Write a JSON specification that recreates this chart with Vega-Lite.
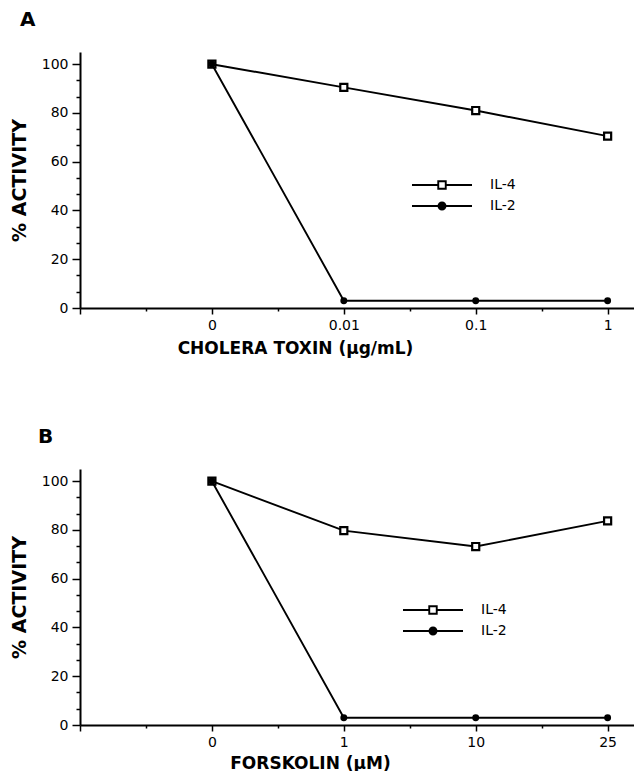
{
  "$schema": "https://vega.github.io/schema/vega-lite/v6.json",
  "padding": {"left": 10, "top": 10, "right": 0, "bottom": 0},
  "background": "white",
  "datasets": {
    "cholera": [
      {"level": 1, "dose": "0", "series": "IL-4", "activity": 100},
      {"level": 2, "dose": "0.01", "series": "IL-4", "activity": 90.5},
      {"level": 3, "dose": "0.1", "series": "IL-4", "activity": 81},
      {"level": 4, "dose": "1", "series": "IL-4", "activity": 70.5},
      {"level": 1, "dose": "0", "series": "IL-2", "activity": 100},
      {"level": 2, "dose": "0.01", "series": "IL-2", "activity": 3},
      {"level": 3, "dose": "0.1", "series": "IL-2", "activity": 3},
      {"level": 4, "dose": "1", "series": "IL-2", "activity": 3}
    ],
    "forskolin": [
      {"level": 1, "dose": "0", "series": "IL-4", "activity": 100},
      {"level": 2, "dose": "1", "series": "IL-4", "activity": 79.7},
      {"level": 3, "dose": "10", "series": "IL-4", "activity": 73.2},
      {"level": 4, "dose": "25", "series": "IL-4", "activity": 83.7},
      {"level": 1, "dose": "0", "series": "IL-2", "activity": 100},
      {"level": 2, "dose": "1", "series": "IL-2", "activity": 3},
      {"level": 3, "dose": "10", "series": "IL-2", "activity": 3},
      {"level": 4, "dose": "25", "series": "IL-2", "activity": 3}
    ]
  },
  "config": {
    "view": {"stroke": null},
    "axis": {
      "grid": false,
      "domainColor": "black",
      "domainWidth": 2,
      "tickColor": "black",
      "tickWidth": 1.5,
      "labelFont": "DejaVu Sans",
      "labelFontSize": 14,
      "labelColor": "black",
      "titleFont": "DejaVu Sans",
      "titleFontWeight": "bold",
      "titleColor": "black",
      "labelOverlap": false,
      "labelFlush": false
    },
    "legend": {
      "labelFont": "DejaVu Sans",
      "labelFontSize": 14,
      "labelColor": "black"
    }
  },
  "spacing": 71,
  "resolve": {
    "scale": {"color": "independent", "x": "independent", "y": "independent"},
    "legend": {"color": "independent"}
  },
  "vconcat": [
    {
      "title": {"text": "A", "anchor": "start", "frame": "group", "dx": -60, "offset": 22, "font": "DejaVu Sans", "fontSize": 20, "fontWeight": "bold", "color": "black"},
      "width": 554,
      "height": 256,
      "data": {"name": "cholera"},
      "encoding": {
        "x": {
          "field": "level", "type": "quantitative",
          "scale": {"domain": [0, 4.2], "nice": false, "zero": false},
          "axis": {
            "title": "CHOLERA TOXIN (µg/mL)",
            "values": [0, 0.5, 1, 1.5, 2, 2.5, 3, 3.5, 4],
            "labelExpr": "datum.value == 1 ? '0' : datum.value == 2 ? '0.01' : datum.value == 3 ? '0.1' : datum.value == 4 ? '1' : ''",
            "tickSize": {"condition": {"test": "datum.value % 1 == 0", "value": 6}, "value": 3},
            "labelPadding": 4,
            "titleFontSize": 17,
            "titleX": 215,
            "titleAlign": "center",
            "titlePadding": 8
          }
        },
        "y": {
          "field": "activity", "type": "quantitative",
          "scale": {"domain": [0, 105], "nice": false},
          "axis": {
            "title": "%   ACTIVITY",
            "values": [0, 6.667, 13.333, 20, 26.667, 33.333, 40, 46.667, 53.333, 60, 66.667, 73.333, 80, 86.667, 93.333, 100],
            "labelExpr": "datum.value % 20 == 0 ? datum.label : ''",
            "tickSize": {"condition": {"test": "datum.value % 20 == 0", "value": 8}, "value": 4},
            "labelPadding": 4,
            "titleFontSize": 19,
            "titlePadding": 12
          }
        }
      },
      "layer": [
        {
          "mark": {"type": "line", "strokeWidth": 1.9},
          "encoding": {
            "color": {
              "field": "series", "type": "nominal",
              "scale": {"domain": ["IL-4", "IL-2"], "range": ["black", "black"]},
              "legend": {
                "title": null, "orient": "none", "legendX": 355, "legendY": 126,
                "symbolSize": 100, "symbolStrokeWidth": 1.8, "labelOffset": 41, "rowPadding": 5,
                "encode": {"symbols": {"update": {
                  "shape": {"signal": "datum.value === 'IL-4' ? 'M-6,0H-0.75M0.75,0H6M-0.75,-0.75H0.75V0.75H-0.75Z' : 'M-6,0H6M0.7,0A0.7,0.7 0 1,1 -0.7,0A0.7,0.7 0 1,1 0.7,0Z'"},
                  "fill": {"signal": "datum.value === 'IL-4' ? 'white' : 'black'"},
                  "stroke": {"value": "black"},
                  "strokeWidth": {"value": 1.9}
                }}}
              }
            }
          }
        },
        {
          "transform": [{"filter": "datum.series == 'IL-4'"}],
          "mark": {"type": "point", "shape": "square", "filled": true, "fill": "white", "stroke": "black", "strokeWidth": 2.2, "size": 50, "opacity": 1}
        },
        {
          "transform": [{"filter": "datum.series == 'IL-2'"}],
          "mark": {"type": "point", "shape": "circle", "filled": true, "color": "black", "size": 48, "opacity": 1}
        }
      ]
    },
    {
      "title": {"text": "B", "anchor": "start", "frame": "group", "dx": -42, "offset": 22, "font": "DejaVu Sans", "fontSize": 20, "fontWeight": "bold", "color": "black"},
      "width": 554,
      "height": 256,
      "data": {"name": "forskolin"},
      "encoding": {
        "x": {
          "field": "level", "type": "quantitative",
          "scale": {"domain": [0, 4.2], "nice": false, "zero": false},
          "axis": {
            "title": "FORSKOLIN (µM)",
            "values": [0, 0.5, 1, 1.5, 2, 2.5, 3, 3.5, 4],
            "labelExpr": "datum.value == 1 ? '0' : datum.value == 2 ? '1' : datum.value == 3 ? '10' : datum.value == 4 ? '25' : ''",
            "tickSize": {"condition": {"test": "datum.value % 1 == 0", "value": 6}, "value": 3},
            "labelPadding": 4,
            "titleFontSize": 17,
            "titleX": 230,
            "titleAlign": "center",
            "titlePadding": 6
          }
        },
        "y": {
          "field": "activity", "type": "quantitative",
          "scale": {"domain": [0, 105], "nice": false},
          "axis": {
            "title": "%   ACTIVITY",
            "values": [0, 6.667, 13.333, 20, 26.667, 33.333, 40, 46.667, 53.333, 60, 66.667, 73.333, 80, 86.667, 93.333, 100],
            "labelExpr": "datum.value % 20 == 0 ? datum.label : ''",
            "tickSize": {"condition": {"test": "datum.value % 20 == 0", "value": 8}, "value": 4},
            "labelPadding": 4,
            "titleFontSize": 19,
            "titlePadding": 12
          }
        }
      },
      "layer": [
        {
          "mark": {"type": "line", "strokeWidth": 1.9},
          "encoding": {
            "color": {
              "field": "series", "type": "nominal",
              "scale": {"domain": ["IL-4", "IL-2"], "range": ["black", "black"]},
              "legend": {
                "title": null, "orient": "none", "legendX": 346, "legendY": 134,
                "symbolSize": 100, "symbolStrokeWidth": 1.8, "labelOffset": 41, "rowPadding": 5,
                "encode": {"symbols": {"update": {
                  "shape": {"signal": "datum.value === 'IL-4' ? 'M-6,0H-0.75M0.75,0H6M-0.75,-0.75H0.75V0.75H-0.75Z' : 'M-6,0H6M0.7,0A0.7,0.7 0 1,1 -0.7,0A0.7,0.7 0 1,1 0.7,0Z'"},
                  "fill": {"signal": "datum.value === 'IL-4' ? 'white' : 'black'"},
                  "stroke": {"value": "black"},
                  "strokeWidth": {"value": 1.9}
                }}}
              }
            }
          }
        },
        {
          "transform": [{"filter": "datum.series == 'IL-4'"}],
          "mark": {"type": "point", "shape": "square", "filled": true, "fill": "white", "stroke": "black", "strokeWidth": 2.2, "size": 50, "opacity": 1}
        },
        {
          "transform": [{"filter": "datum.series == 'IL-2'"}],
          "mark": {"type": "point", "shape": "circle", "filled": true, "color": "black", "size": 48, "opacity": 1}
        }
      ]
    }
  ]
}
